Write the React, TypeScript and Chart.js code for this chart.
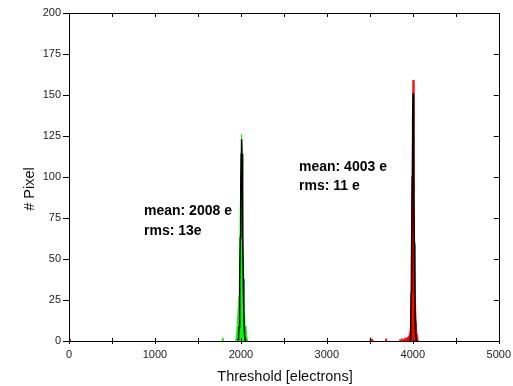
import React, { useEffect, useRef } from 'react';
import { Chart, registerables } from 'chart.js';

Chart.register(...registerables);

// Histogram of thresholds, ~2000 e target (green)
const greenBins = [1780, 1790, 1800, 1938, 1948, 1958, 1968, 1978, 1988, 1998, 2008, 2018, 2028, 2038, 2048, 2058, 2068, 2078];
const greenCounts = [0, 2, 0, 0, 3, 10, 20, 28, 60, 100, 126, 95, 55, 22, 9, 8, 3, 0];

// Histogram of thresholds, ~4000 e target (red)
const redBins = [0, 10, 20, 3500, 3510, 3520, 3530, 3540, 3680, 3690, 3700, 3843, 3853, 3863, 3873, 3883, 3893, 3903, 3913, 3923, 3933, 3943, 3953, 3963, 3973, 3983, 3993, 4003, 4013, 4023, 4033, 4043, 4053, 4063];
const redCounts = [3, 3, 0, 0, 2, 0, 1, 0, 0, 1.5, 0, 0, 1, 0, 1.5, 0, 1, 1, 2, 1, 2, 2, 3, 4, 8, 60, 110, 159, 90, 51, 20, 6, 3, 0];

// Gaussian fits (black)
const greenFitX = [1963, 1968, 1973, 1978, 1983, 1988, 1993, 1998, 2003, 2008, 2013, 2018, 2023, 2028, 2033, 2038, 2043, 2048, 2053];
const greenFitY = [0.3, 1.1, 3.3, 8.6, 19.4, 37.7, 63, 91.5, 114, 123, 114, 91.5, 63, 37.7, 19.4, 8.6, 3.3, 1.1, 0.3];
const redFitX = [3963, 3968, 3973, 3978, 3983, 3988, 3993, 3998, 4003, 4008, 4013, 4018, 4023, 4028, 4033, 4038, 4043];
const redFitY = [0.2, 1, 3.7, 11.4, 28.9, 59.6, 100, 136, 151, 136, 100, 59.6, 28.9, 11.4, 3.7, 1, 0.2];

const xMin = 0;
const xMax = 5000;
const xStep = 500;
const xLabelEvery = 1000;
const yMin = 0;
const yMax = 200;
const yStep = 25;

const xTitle = 'Threshold [electrons]';
const yTitle = '# Pixel';
const notes = [
  { lines: ['mean: 2008 e', 'rms: 13e'], x: 144, y: 215 },
  { lines: ['mean: 4003 e', 'rms: 11 e'], x: 299, y: 170.5 },
];

const FONT = '"Liberation Sans", Arial, Helvetica, sans-serif';

const toPts = (xs: number[], ys: number[]) => xs.map((x, i) => ({ x, y: ys[i] }));

const hideFlat = (c: any) => (c.p0.parsed.y === 0 && c.p1.parsed.y === 0 ? 'rgba(0,0,0,0)' : undefined);

const framePlugin = {
  id: 'frameAndText',
  afterDatasetsDraw(chart: any) {
    const { ctx, chartArea } = chart;
    const xs = chart.scales.x;
    const ys = chart.scales.y;
    const L = chartArea.left, R = chartArea.right, T = chartArea.top, B = chartArea.bottom;
    ctx.save();
    ctx.strokeStyle = '#000';
    ctx.lineWidth = 1;
    ctx.beginPath();
    ctx.rect(Math.round(L) + 0.5, Math.round(T) + 0.5, Math.round(R - L), Math.round(B - T));
    ctx.stroke();
    ctx.beginPath();
    for (let v = xMin; v <= xMax; v += xStep) {
      const px = Math.round(xs.getPixelForValue(v)) + 0.5;
      ctx.moveTo(px, B - 3);
      ctx.lineTo(px, B + 3);
      ctx.moveTo(px, T);
      ctx.lineTo(px, T + 4);
    }
    for (let v = yMin; v <= yMax; v += yStep) {
      const py = Math.round(ys.getPixelForValue(v)) + 0.5;
      ctx.moveTo(L - 6, py);
      ctx.lineTo(L, py);
      ctx.moveTo(R - 5, py);
      ctx.lineTo(R, py);
    }
    ctx.stroke();

    ctx.fillStyle = '#000';
    ctx.font = `bold 14px ${FONT}`;
    ctx.textAlign = 'left';
    ctx.textBaseline = 'alphabetic';
    for (const n of notes) {
      n.lines.forEach((t, i) => ctx.fillText(t, n.x, n.y + i * 19.5));
    }

    ctx.font = `14.5px ${FONT}`;
    ctx.textAlign = 'center';
    ctx.fillStyle = '#111';
    ctx.fillText(xTitle, 285, 380.5);
    ctx.save();
    ctx.translate(34, 189);
    ctx.rotate(-Math.PI / 2);
    ctx.fillText(yTitle, 0, 0);
    ctx.restore();
    ctx.restore();
  },
};

export default function App() {
  const ref = useRef<HTMLCanvasElement | null>(null);
  useEffect(() => {
    if (!ref.current) return;
    const chart = new Chart(ref.current, {
      type: 'line',
      data: {
        datasets: [
          {
            label: 'fit 2000',
            data: toPts(greenFitX, greenFitY),
            borderColor: '#000',
            borderWidth: 1.5,
            pointRadius: 0,
            fill: false,
            order: 0,
          },
          {
            label: 'fit 4000',
            data: toPts(redFitX, redFitY),
            borderColor: '#000',
            borderWidth: 1.5,
            pointRadius: 0,
            fill: false,
            order: 0,
          },
          {
            label: 'hist 2000',
            data: toPts(greenBins, greenCounts),
            borderColor: '#00ff00',
            backgroundColor: '#00ff00',
            borderWidth: 1,
            pointRadius: 0,
            fill: 'origin',
            order: 1,
            segment: { borderColor: hideFlat },
          },
          {
            label: 'hist 4000',
            data: toPts(redBins, redCounts),
            borderColor: '#ff0000',
            backgroundColor: '#ff0000',
            borderWidth: 1,
            pointRadius: 0,
            fill: 'origin',
            order: 1,
            segment: { borderColor: hideFlat },
          },
        ],
      },
      options: {
        animation: false,
        responsive: false,
        devicePixelRatio: 1,
        layout: { padding: { top: 13, right: 13, left: 0, bottom: 0 } },
        plugins: { legend: { display: false }, tooltip: { enabled: false }, title: { display: false } },
        scales: {
          x: {
            type: 'linear',
            min: xMin,
            max: xMax,
            grid: { display: false, drawTicks: true, tickLength: 5 },
            border: { display: false },
            ticks: {
              stepSize: xStep,
              autoSkip: false,
              maxRotation: 0,
              padding: 2,
              color: '#222',
              font: { family: FONT, size: 11 },
              callback: (v: any) => (Number(v) % xLabelEvery === 0 ? String(v) : ''),
            },
            afterFit: (s: any) => {
              s.height = 45;
            },
          },
          y: {
            type: 'linear',
            min: yMin,
            max: yMax,
            grid: { display: false, drawTicks: true, tickLength: 6 },
            border: { display: false },
            ticks: {
              stepSize: yStep,
              padding: 2,
              color: '#222',
              font: { family: FONT, size: 11 },
            },
            afterFit: (s: any) => {
              s.width = 69;
            },
          },
        },
      },
      plugins: [framePlugin],
    });
    return () => chart.destroy();
  }, []);
  return (
    <div style={{ position: 'fixed', left: 0, top: 0, width: 513, height: 386, background: '#fff' }}>
      <canvas ref={ref} width={513} height={386} style={{ display: 'block', width: 513, height: 386 }} />
    </div>
  );
}
